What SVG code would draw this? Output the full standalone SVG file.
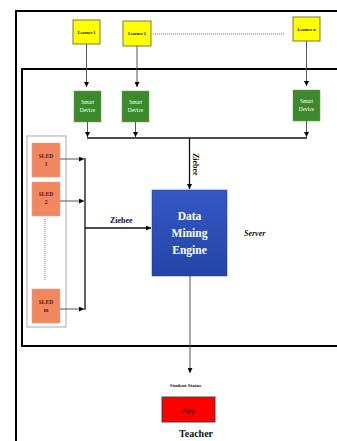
<svg xmlns="http://www.w3.org/2000/svg" width="337" height="441" viewBox="0 0 337 441">
<defs>
<style>
.frame{fill:none;stroke:#000;stroke-width:2}
.learner{fill:#ffff00;stroke:#7a7a30;stroke-width:1}
.ltxt{font-family:"Liberation Serif",serif;font-size:4.2px;font-weight:bold;fill:#000;text-anchor:middle}
.sd{fill:#3d8a2c;stroke:#6a9a5a;stroke-width:0.5}
.sdtxt{font-family:"Liberation Serif",serif;font-size:5.5px;fill:#fff;text-anchor:middle}
.sled{fill:#f2865f;stroke:#e0a090;stroke-width:0.5}
.sledtxt{font-family:"Liberation Serif",serif;font-size:5.5px;font-weight:bold;fill:#4a2010;text-anchor:middle}
.ln{stroke:#555;stroke-width:1;fill:none}
.bus{stroke:#111;stroke-width:1.3;fill:none}
.lbl{font-family:"Liberation Serif",serif;font-weight:bold;fill:#111}
.eng{font-family:"Liberation Serif",serif;font-weight:bold;font-size:11.5px;fill:#fff;text-anchor:middle}
</style>
<marker id="ah" viewBox="0 0 6 6" refX="6" refY="3" markerWidth="5" markerHeight="5" orient="auto" markerUnits="userSpaceOnUse">
<path d="M0,0 L6,3 L0,6 z" fill="#000"/>
</marker>
<linearGradient id="eng" x1="0" y1="0" x2="0" y2="1">
<stop offset="0" stop-color="#3458c4"/>
<stop offset="1" stop-color="#2444a8"/>
</linearGradient>
</defs>
<rect width="337" height="441" fill="#fff"/>
<g id="frames">
<path class="frame" d="M16,441 V11 H340" stroke-width="2.5"/>
<path class="frame" d="M340,69 H22 V346 H340"/>
</g>
<g id="learner1"><rect class="learner" x="73" y="20" width="27" height="24"/><text class="ltxt" x="86.5" y="33.5">Learner 1</text></g>
<g id="learner2"><rect class="learner" x="123" y="21" width="28" height="25"/><text class="ltxt" x="137" y="35">Learner 2</text></g>
<g id="learnern"><rect class="learner" x="293" y="17" width="27" height="24"/><text class="ltxt" x="306.5" y="30.5">Learner n</text></g>
<g id="sd1"><rect class="sd" x="74" y="91" width="27" height="31"/><text class="sdtxt" x="87.5" y="103.5">Smart</text><text class="sdtxt" x="87.5" y="111.5">Device</text></g>
<g id="sd2"><rect class="sd" x="122" y="91" width="27" height="31"/><text class="sdtxt" x="135.5" y="103.5">Smart</text><text class="sdtxt" x="135.5" y="111.5">Device</text></g>
<g id="sdn"><rect class="sd" x="293" y="90" width="27" height="31"/><text class="sdtxt" x="306.5" y="102.5">Smart</text><text class="sdtxt" x="306.5" y="110.5">Device</text></g>
<g id="sledgroup"><rect x="27" y="136" width="39" height="191" fill="#fff" stroke="#aaa" stroke-width="1"/></g>
<g id="sled1"><rect class="sled" x="32" y="143" width="28" height="34"/><text class="sledtxt" x="46" y="158">SLED</text><text class="sledtxt" x="46" y="166">1</text></g>
<g id="sled2"><rect class="sled" x="32" y="182" width="28" height="34"/><text class="sledtxt" x="46" y="196">SLED</text><text class="sledtxt" x="46" y="204">2</text></g>
<g id="sledm"><rect class="sled" x="32" y="289" width="28" height="34"/><text class="sledtxt" x="46" y="304">SLED</text><text class="sledtxt" x="46" y="312">m</text></g>
<g id="engine"><rect x="152" y="190" width="75" height="86" fill="url(#eng)" stroke="#1e3a90" stroke-width="0.5"/>
<text class="eng" x="189.5" y="220">Data</text>
<text class="eng" x="189.5" y="237">Mining</text>
<text class="eng" x="189.5" y="254">Engine</text></g>
<g id="server"><text class="lbl" x="244" y="236" font-size="8" font-style="italic">Server</text></g>
<g id="app"><rect x="162" y="397" width="53" height="25" fill="#ff0000" stroke="#444" stroke-width="1"/><text class="lbl" x="188.5" y="413" font-size="8" text-anchor="middle" style="fill:#8a0000">App</text></g>
<g id="teacher"><text class="lbl" x="196" y="437" font-size="10" text-anchor="middle">Teacher</text></g>
<g id="studentstatus"><text class="lbl" x="185.5" y="387" font-size="5" text-anchor="middle">Student Status</text></g>
<g id="connectors">
<line class="ln" x1="86.5" y1="44" x2="86.5" y2="87" marker-end="url(#ah)"/>
<line class="ln" x1="137" y1="46" x2="137" y2="87" marker-end="url(#ah)"/>
<line class="ln" x1="306.5" y1="41" x2="306.5" y2="86" marker-end="url(#ah)"/>
<line x1="153" y1="34" x2="285" y2="34" stroke="#555" stroke-width="0.8" stroke-dasharray="1,1"/>
<line class="ln" x1="87.5" y1="122" x2="87.5" y2="137" marker-end="url(#ah)"/>
<line class="ln" x1="135.5" y1="122" x2="135.5" y2="137" marker-end="url(#ah)"/>
<line class="ln" x1="306.5" y1="121" x2="306.5" y2="137" marker-end="url(#ah)"/>
<line class="bus" x1="87" y1="138" x2="307" y2="138"/>
<line class="bus" x1="189.5" y1="138" x2="189.5" y2="189" marker-end="url(#ah)"/>
<text class="lbl" font-size="8" transform="translate(193,153) rotate(90)">Ziebee</text>
<line class="ln" x1="60" y1="159" x2="84" y2="159" marker-end="url(#ah)"/>
<line class="ln" x1="60" y1="201" x2="84" y2="201" marker-end="url(#ah)"/>
<line class="ln" x1="60" y1="309" x2="84" y2="309" marker-end="url(#ah)"/>
<line class="bus" x1="85" y1="158" x2="85" y2="310"/>
<line class="bus" x1="85" y1="228" x2="151" y2="228" marker-end="url(#ah)"/>
<text class="lbl" x="110" y="223" font-size="8">Ziebee</text>
<line x1="45" y1="219" x2="45" y2="280" stroke="#555" stroke-width="0.8" stroke-dasharray="1,1"/>
<line class="ln" x1="190" y1="276" x2="190" y2="373" marker-end="url(#ah)"/>
</g>
</svg>
